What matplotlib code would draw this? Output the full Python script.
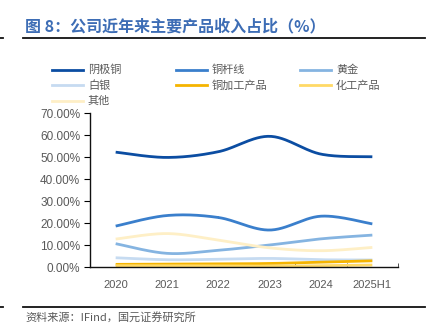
import numpy as np
import matplotlib.pyplot as plt
from matplotlib.lines import Line2D

plt.rcParams['font.family'] = ['Liberation Sans', 'Noto Sans CJK SC', 'DejaVu Sans']

# 数据（占比，%）
years = ['2020', '2021', '2022', '2023', '2024', '2025H1']
cathode_cu = [52.2, 49.8, 52.4, 59.4, 51.3, 50.1]
cu_rod = [18.6, 23.4, 22.5, 16.8, 23.1, 19.6]
gold = [10.6, 6.2, 7.6, 10.0, 12.8, 14.5]
silver = [4.2, 3.3, 3.5, 3.9, 3.3, 3.2]
cu_processed = [1.2, 1.3, 1.4, 1.6, 2.2, 2.8]
chem = [0.6, 0.6, 0.5, 0.4, 0.6, 0.9]
other = [12.7, 15.2, 12.2, 8.7, 7.4, 8.9]

names = ['阴极铜', '铜杆线', '黄金', '白银', '铜加工产品', '化工产品', '其他']
series = [cathode_cu, cu_rod, gold, silver, cu_processed, chem, other]
colors = ['#0B4DA2', '#3A7FCC', '#85B4E1', '#C6DBF1', '#F5B400', '#FFD966', '#FEEFC6']

W, H = 434, 325


def smooth(y, n=30):
    # Excel 风格平滑线（Catmull-Rom 曲线）
    y = np.asarray(y, float)
    x = np.arange(len(y), dtype=float)
    px = np.concatenate([[x[0]], x, [x[-1]]])
    py = np.concatenate([[y[0]], y, [y[-1]]])
    xs, ys = [], []
    for i in range(1, len(px) - 2):
        t = np.linspace(0, 1, n)
        for arr, out in ((px, xs), (py, ys)):
            p0, p1, p2, p3 = arr[i - 1], arr[i], arr[i + 1], arr[i + 2]
            out.append(0.5 * (2 * p1 + (-p0 + p2) * t
                              + (2 * p0 - 5 * p1 + 4 * p2 - p3) * t ** 2
                              + (-p0 + 3 * p1 - 3 * p2 + p3) * t ** 3))
    return np.concatenate(xs), np.concatenate(ys)


fig = plt.figure(figsize=(W / 100, H / 100), dpi=100)
ax = fig.add_axes([90 / W, 1 - 267 / H, 308 / W, 154 / H])

for vals, c in zip(series, colors):
    sx, sy = smooth(vals)
    ax.plot(sx, sy, color=c, linewidth=2.0, solid_capstyle='butt')

ax.set_xlim(-0.5, len(years) - 0.5)
ax.set_ylim(0, 70)
ax.set_yticks(np.arange(0, 71, 10))
ax.set_yticklabels([f'{v:.2f}%' for v in np.arange(0, 71, 10)])
ax.set_xticks(range(len(years)))
ax.set_xticklabels(years)
ax.set_xticks(np.arange(-0.5, len(years)), minor=True)
ax.tick_params(axis='x', which='major', length=0, pad=9, labelsize=8, labelcolor='#595959')
ax.tick_params(axis='x', which='minor', length=3, direction='in', width=0.6, color='#333333')
ax.tick_params(axis='y', length=4, width=0.8, pad=3, labelsize=8.5, labelcolor='#595959')
for s in ['top', 'right']:
    ax.spines[s].set_visible(False)
for s in ['left', 'bottom']:
    ax.spines[s].set_linewidth(1.0)
    ax.spines[s].set_color('#111111')

# 图例（手动排布，三列）
for i, (name, c) in enumerate(zip(names, colors)):
    row, col = divmod(i, 3)
    x0 = 52 + col * 124
    yy = 1 - (70 + row * 15.3) / H
    fig.add_artist(Line2D([x0 / W, (x0 + 31) / W], [yy, yy], color=c, linewidth=2.0,
                          transform=fig.transFigure))
    fig.text((x0 + 36) / W, yy, name, fontsize=8, color='#595959', va='center',
             family=['Noto Sans CJK SC', 'DejaVu Sans'])

# 标题与分隔线
fig.text(25 / W, 1 - 26 / H, '图 8：公司近年来主要产品收入占比（%）', fontsize=11.5, fontweight='bold',
         color='#3D6DB5', va='center', family=['Noto Sans CJK SC', 'DejaVu Sans'])
for yl in (38, 307):
    fig.add_artist(Line2D([23 / W, 425 / W], [1 - yl / H, 1 - yl / H], color='#111111',
                          linewidth=1.3, transform=fig.transFigure))
    fig.add_artist(Line2D([0, 3 / W], [1 - yl / H, 1 - yl / H], color='#111111',
                          linewidth=1.3, transform=fig.transFigure))
fig.text(25 / W, 1 - 317 / H, '资料来源：IFind，国元证券研究所', fontsize=8, color='#595959',
         va='center', family=['Noto Sans CJK SC', 'DejaVu Sans'])

fig.savefig('out.png', dpi=100)
